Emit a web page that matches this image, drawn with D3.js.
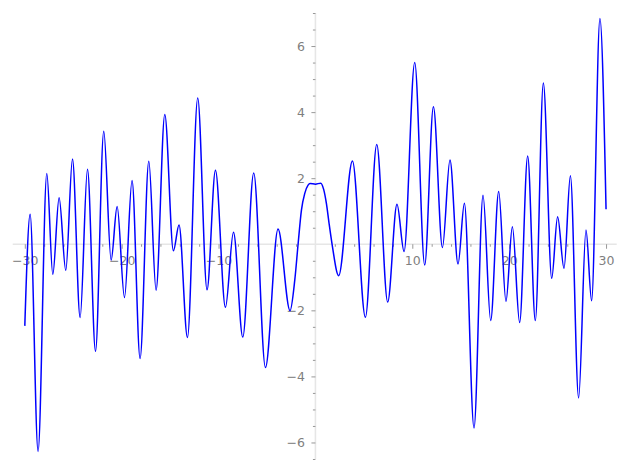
<!DOCTYPE html>
<html>
<head>
<meta charset="utf-8">
<script src="https://cdn.jsdelivr.net/npm/d3@7"></script>
<style>
  html, body { margin: 0; padding: 0; background: #fff; }
  svg { display: block; }
</style>
</head>
<body>
<svg id="chart" width="627" height="470"></svg>
<script>
// ---- data (local extrema and shape points) ----
const xValues = [
  -30, -29.45, -28.63, -27.73, -27.11, -26.46, -25.77, -25.08, -24.29, -23.53,
  -22.70, -21.85, -21.09, -20.47, -19.71, -18.93, -18.10, -17.20, -16.45, -15.55,
  -14.66, -14.08, -13.21, -12.15, -11.19, -10.32, -9.29, -8.46, -7.50, -6.37,
  -5.16, -3.86, -2.62, -2.13, -1.79, -1.44, -1.10, -0.76, -0.55, 0,
  0.55, 0.85, 1.14, 1.40, 1.72, 2.40, 3.82, 5.16, 6.33, 7.46,
  8.42, 9.15, 10.25, 11.28, 12.18, 13.11, 13.89, 14.72, 15.38, 16.37,
  17.30, 18.09, 18.92, 19.67, 20.33, 21.08, 21.91, 22.70, 23.53, 24.39,
  25.00, 25.66, 26.32, 27.17, 27.93, 28.51, 29.37, 30
];
const yValues = [
  -2.47, 0.91, -6.27, 2.14, -0.91, 1.41, -0.79, 2.58, -2.22, 2.27,
  -3.24, 3.42, -0.48, 1.14, -1.61, 1.93, -3.46, 2.51, -1.39, 3.93,
  -0.20, 0.58, -2.82, 4.43, -1.38, 2.24, -1.91, 0.36, -2.81, 2.16,
  -3.73, 0.46, -2.01, -1.08, 0.0, 1.04, 1.54, 1.79, 1.84, 1.82,
  1.85, 1.66, 1.22, 0.65, 0.0, -0.95, 2.52, -2.21, 3.02, -1.75,
  1.21, -0.22, 5.50, -0.63, 4.16, -0.10, 2.55, -0.60, 1.24, -5.56,
  1.48, -2.31, 1.60, -1.73, 0.53, -2.37, 2.67, -2.31, 4.88, -1.03,
  0.83, -0.73, 2.07, -4.65, 0.43, -1.71, 6.83, 1.06
];
const xTickValues = [-30, -20, -10, 10, 20, 30];
const xTickLabels = ["\u221230", "\u221220", "\u221210", "10", "20", "30"];
const yTickValues = [-6, -4, -2, 2, 4, 6];
const yTickLabels = ["\u22126", "\u22124", "\u22122", "2", "4", "6"];

// ---- drawing ----
const svg = d3.select("#chart");
const x = d3.scaleLinear().domain([-31.25, 31.1]).range([12.7, 616.7]);
const y = d3.scaleLinear().domain([-6.5, 7.0]).range([459, 13]);

const axisColor = "#e6e6e6";
const tickColor = "#8c8c8c";
const labelColor = "#7f7f7f";
const font = "'DejaVu Sans', sans-serif";

// axis lines
svg.append("line")
  .attr("x1", x.range()[0]).attr("x2", x.range()[1])
  .attr("y1", y(0)).attr("y2", y(0))
  .attr("stroke", axisColor).attr("stroke-width", 1.6);
svg.append("line")
  .attr("x1", x(0)).attr("x2", x(0))
  .attr("y1", y.range()[1]).attr("y2", y.range()[0])
  .attr("stroke", axisColor).attr("stroke-width", 1.6);

// minor ticks
const xMinor = d3.range(-30, 31, 2).filter(v => !xTickValues.includes(v) && v !== 0);
const yMinor = d3.range(-6.5, 7.01, 0.5).filter(v => !yTickValues.includes(v) && v !== 0);

const gxMinor = svg.append("g").attr("transform", `translate(0,${y(0)})`)
  .call(d3.axisBottom(x).tickValues(xMinor).tickSize(2.5).tickFormat(""));
const gyMinor = svg.append("g").attr("transform", `translate(${x(0)},0)`)
  .call(d3.axisLeft(y).tickValues(yMinor).tickSize(2.5).tickFormat(""));

const gx = svg.append("g").attr("transform", `translate(0,${y(0)})`)
  .call(d3.axisBottom(x).tickValues(xTickValues).tickSize(4.5)
    .tickFormat((d, i) => xTickLabels[i]));
const gy = svg.append("g").attr("transform", `translate(${x(0)},0)`)
  .call(d3.axisLeft(y).tickValues(yTickValues).tickSize(4)
    .tickFormat((d, i) => yTickLabels[i]));

[gxMinor, gyMinor, gx, gy].forEach(g => {
  g.select(".domain").remove();
  g.selectAll(".tick line").attr("stroke", tickColor).attr("stroke-width", 0.9);
  g.selectAll(".tick text")
    .attr("fill", labelColor)
    .style("font-family", font)
    .style("font-size", "12.5px");
});
gx.selectAll(".tick text").attr("y", 11.5);
gy.selectAll(".tick text").attr("x", -10.5);

// curve
const pts = xValues.map((v, i) => [v, yValues[i]]);
const line = d3.line()
  .x(d => x(d[0]))
  .y(d => y(d[1]))
  .curve(d3.curveMonotoneX);
svg.append("path")
  .datum(pts)
  .attr("d", line)
  .attr("fill", "none")
  .attr("stroke", "#0000ff")
  .attr("stroke-width", 1.5)
  .attr("stroke-linejoin", "round");
</script>
</body>
</html>
